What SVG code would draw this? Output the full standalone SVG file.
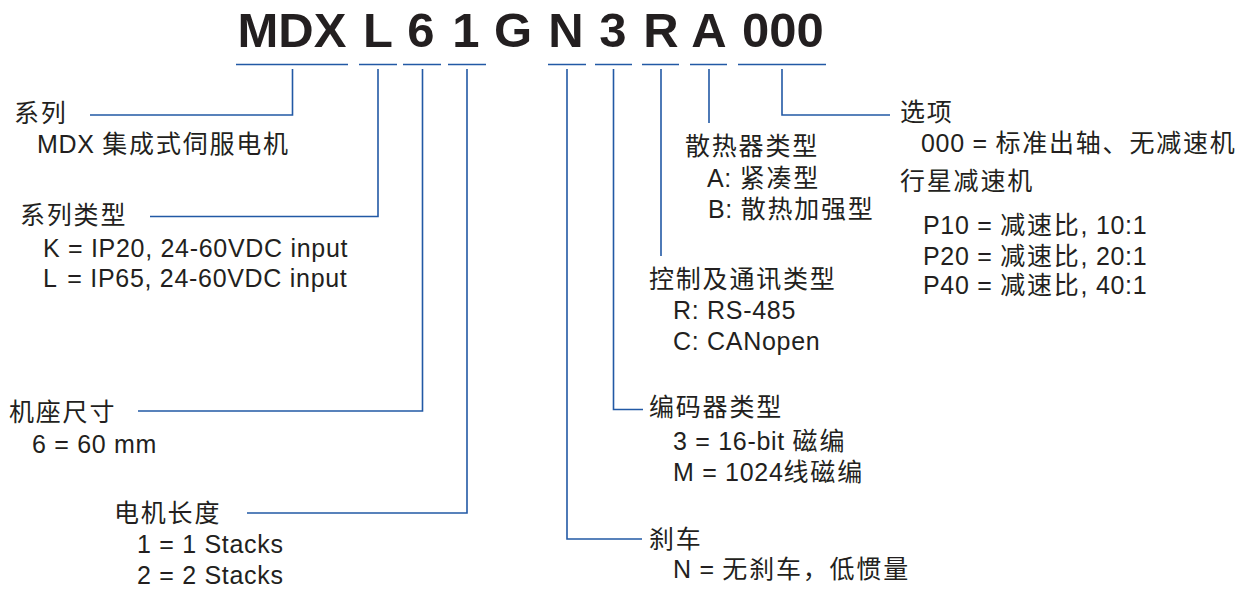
<svg xmlns="http://www.w3.org/2000/svg" width="1243" height="589" viewBox="0 0 1243 589">
<style>
.t{font-family:"Liberation Sans","Noto Sans CJK SC",sans-serif;font-size:25px;letter-spacing:0.7px;fill:#231f20}
.k{letter-spacing:1.8px}
.h{font-family:"Liberation Sans",Arial,sans-serif;font-size:49px;font-weight:bold;fill:#231f20;text-anchor:middle}
.c{fill:none;stroke:#2259a5;stroke-width:1.6}
</style>
<rect width="1243" height="589" fill="#ffffff"/>
<g id="title">
<text class="h" x="292" y="47">MDX</text>
<text class="h" x="378" y="47">L</text>
<text class="h" x="421" y="47">6</text>
<text class="h" x="466" y="47">1</text>
<text class="h" x="513" y="47">G</text>
<text class="h" x="566" y="47">N</text>
<text class="h" x="613" y="47">3</text>
<text class="h" x="661" y="47">R</text>
<text class="h" x="709" y="47">A</text>
<text class="h" x="783" y="47">000</text>
</g>
<g id="connectors">
<path class="c" d="M236,64.5H348M292.5,69V115H90"/>
<path class="c" d="M359,64.5H397M378,69V216.5H150"/>
<path class="c" d="M403,64.5H441M422.5,69V411H138"/>
<path class="c" d="M448,64.5H486M467,69V513H247"/>
<path class="c" d="M548,64.5H586M567,69V539H642"/>
<path class="c" d="M595,64.5H632M613.5,69V409.5H643"/>
<path class="c" d="M642,64.5H679M661,69V256"/>
<path class="c" d="M690,64.5H727M709,69V123"/>
<path class="c" d="M738,64.5H826M782,69V115H890"/>
</g>
<g id="series">
<text class="t k" x="14" y="122">系列</text>
<text class="t" x="37" y="153">MDX <tspan class="k">集成式伺服电机</tspan></text>
</g>
<g id="series-type">
<text class="t k" x="20" y="224">系列类型</text>
<text class="t" x="43" y="256.5">K = IP20, 24-60VDC input</text>
<text class="t" x="43" y="287">L<tspan dx="3"> = IP65, 24-60VDC input</tspan></text>
</g>
<g id="frame-size">
<text class="t k" x="9" y="421">机座尺寸</text>
<text class="t" x="32" y="452.5">6 = 60 mm</text>
</g>
<g id="motor-length">
<text class="t k" x="114" y="522">电机长度</text>
<text class="t" x="137" y="553">1 = 1 Stacks</text>
<text class="t" x="137" y="584">2 = 2 Stacks</text>
</g>
<g id="heatsink">
<text class="t k" x="685" y="155">散热器类型</text>
<text class="t" x="707" y="186.5">A: <tspan class="k">紧凑型</tspan></text>
<text class="t" x="708" y="218">B: <tspan class="k">散热加强型</tspan></text>
</g>
<g id="comm">
<text class="t k" x="649" y="288">控制及通讯类型</text>
<text class="t" x="673" y="318.5">R: RS-485</text>
<text class="t" x="673" y="349.5">C: CANopen</text>
</g>
<g id="encoder">
<text class="t k" x="649" y="416">编码器类型</text>
<text class="t" x="673" y="449.5">3 = 16-bit <tspan class="k">磁编</tspan></text>
<text class="t" x="673" y="480.5">M = 1024<tspan class="k">线磁编</tspan></text>
</g>
<g id="brake">
<text class="t k" x="649" y="548">刹车</text>
<text class="t" x="673" y="578">N = <tspan class="k">无刹车，低惯量</tspan></text>
</g>
<g id="options">
<text class="t k" x="900" y="121">选项</text>
<text class="t" x="921" y="151.5">000 = <tspan class="k">标准出轴、无减速机</tspan></text>
<text class="t k" x="900" y="190">行星减速机</text>
<text class="t" x="923" y="233.5">P10 = <tspan class="k">减速比</tspan>, 10:1</text>
<text class="t" x="923" y="264.5">P20 = <tspan class="k">减速比</tspan>, 20:1</text>
<text class="t" x="923" y="293.5">P40 = <tspan class="k">减速比</tspan>, 40:1</text>
</g>
</svg>
